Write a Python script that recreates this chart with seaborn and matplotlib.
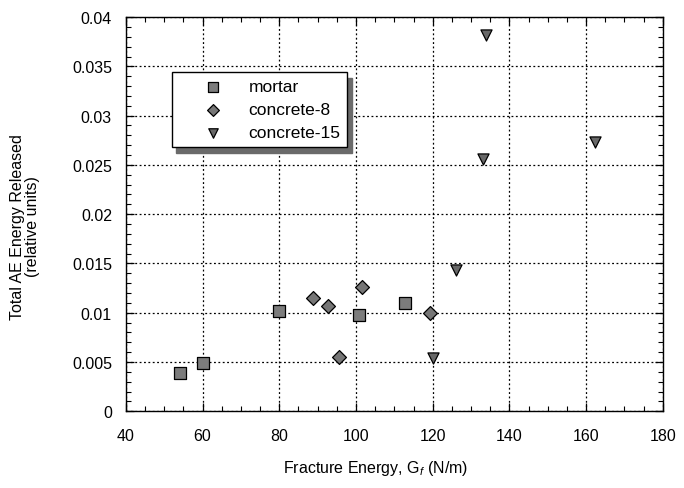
import numpy as np
import pandas as pd
import matplotlib
matplotlib.use("Agg")
import matplotlib.pyplot as plt
from matplotlib.ticker import MultipleLocator, FuncFormatter
import seaborn as sns

# data
mortar_x = [54.0, 60.0, 80.0, 100.9, 112.9]
mortar_y = [0.0039, 0.0049, 0.0102, 0.0098, 0.0110]
conc8_x = [88.8, 92.6, 95.5, 101.7, 119.2]
conc8_y = [0.0115, 0.0107, 0.0055, 0.0126, 0.0100]
conc15_x = [120.0, 126.0, 133.0, 133.8, 162.3]
conc15_y = [0.0054, 0.0143, 0.0256, 0.0382, 0.0273]

df = pd.concat([
    pd.DataFrame({"Gf": mortar_x, "AE": mortar_y, "mix": "mortar"}),
    pd.DataFrame({"Gf": conc8_x, "AE": conc8_y, "mix": "concrete-8"}),
    pd.DataFrame({"Gf": conc15_x, "AE": conc15_y, "mix": "concrete-15"}),
])

sns.set_style("ticks")
plt.rcParams["font.family"] = ["Liberation Sans", "DejaVu Sans"]
plt.rcParams["text.color"] = "black"
plt.rcParams["axes.labelcolor"] = "black"
plt.rcParams["mathtext.fontset"] = "custom"
plt.rcParams["mathtext.rm"] = "Liberation Sans"
plt.rcParams["mathtext.it"] = "Liberation Sans:italic"

fig = plt.figure(figsize=(6.84, 4.89), dpi=100)
ax = fig.add_axes([0.184, 0.157, 0.785, 0.806])

markers = {"mortar": "s", "concrete-8": "D", "concrete-15": "v"}
sizes = {"mortar": 64, "concrete-8": 50, "concrete-15": 64}
fills = {"mortar": "#7c7c7c", "concrete-8": "#767676", "concrete-15": "#686868"}
for mix in ["mortar", "concrete-8", "concrete-15"]:
    sub = df[df["mix"] == mix]
    sns.scatterplot(data=sub, x="Gf", y="AE", marker=markers[mix], s=sizes[mix],
                    color=fills[mix], edgecolor="black", linewidth=0.9,
                    label=mix, ax=ax, zorder=3)

ax.set_xlim(40, 180)
ax.set_ylim(0, 0.04)
ax.xaxis.set_major_locator(MultipleLocator(20))
ax.xaxis.set_minor_locator(MultipleLocator(5))
ax.yaxis.set_major_locator(MultipleLocator(0.005))
ax.yaxis.set_minor_locator(MultipleLocator(0.001))
ax.yaxis.set_major_formatter(FuncFormatter(lambda v, p: "%g" % round(v, 4)))
ax.tick_params(which="both", direction="in", top=True, right=True,
               labelsize=11.5, colors="black")
ax.tick_params(which="major", length=6, width=0.9)
ax.tick_params(axis="y", which="major", pad=10)
ax.tick_params(axis="x", which="major", pad=12)
ax.tick_params(which="minor", length=3.5, width=0.8)
ax.grid(True, which="major", linestyle=(0, (1.5, 2)), color="black", linewidth=0.9)
for s in ax.spines.values():
    s.set_linewidth(1.0)
    s.set_color("black")

ax.set_xlabel(r"Fracture Energy, G$_{f}$ (N/m)", fontsize=11.5)
ax.set_ylabel("Total AE Energy Released\n(relative units)", fontsize=11.5,
              linespacing=1.0)
ax.xaxis.set_label_coords(0.466, -0.118)
ax.yaxis.set_label_coords(-0.16, 0.47)

handles, labels = ax.get_legend_handles_labels()
leg = ax.legend(handles, labels, loc="upper left", bbox_to_anchor=(0.086, 0.86),
                fancybox=False,
                shadow={"color": "#6a6a6a", "alpha": 1, "ox": 3, "oy": -4},
                frameon=True, fontsize=12.5, borderpad=0.4, labelspacing=0.45,
                handlelength=3.9, handletextpad=0.1, borderaxespad=0,
                framealpha=1, scatterpoints=1, markerscale=0.85)
leg.get_frame().set_edgecolor("black")
leg.get_frame().set_linewidth(1.0)
leg.set_zorder(5)

fig.savefig("out.png", dpi=100)
